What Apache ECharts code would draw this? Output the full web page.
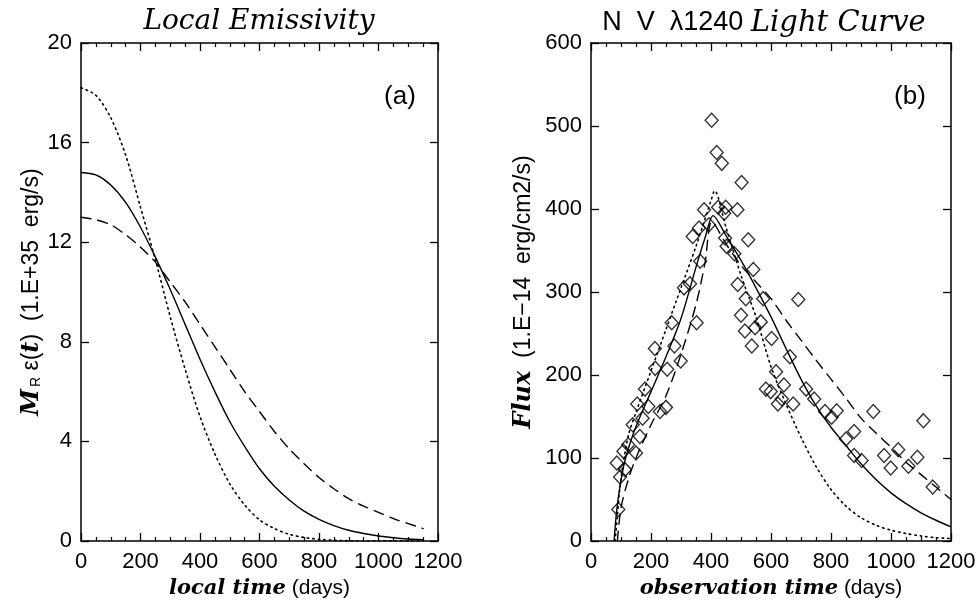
<!DOCTYPE html>
<html>
<head>
<meta charset="utf-8">
<script src="https://cdn.jsdelivr.net/npm/echarts@6/dist/echarts.min.js"></script>
<style>html,body{margin:0;padding:0;background:#fff;}#c{width:979px;height:600px;}</style>
</head>
<body>
<div id="c"></div>
<script>
// ---- Panel (a): local emissivity ----
const leftT = [0,50,100,150,200,250,300,350,400,450,500,550,600,650,700,750,800,850,900,950,1000,1050,1100,1150];
const leftSolid = [14.8,14.7,14.3,13.6,12.6,11.4,10.1,8.7,7.3,6.0,4.8,3.8,2.9,2.2,1.65,1.2,0.87,0.62,0.43,0.3,0.2,0.13,0.08,0.05];
const leftDotted = [18.2,17.9,17.0,15.5,13.4,11.3,9.0,6.9,5.0,3.5,2.3,1.45,0.85,0.5,0.27,0.14,0.07,0.03,0.01,0,0,0,0,0];
const leftDashed = [13.0,12.9,12.7,12.3,11.8,11.2,10.4,9.6,8.7,7.8,6.9,6.0,5.2,4.4,3.7,3.1,2.55,2.1,1.7,1.4,1.15,0.9,0.7,0.5];

// ---- Panel (b): N V 1240 light curve ----
const rSolidT = [77,85,95,110,125,150,200,250,300,350,380,407,450,500,550,600,650,700,750,800,850,900,950,1000,1050,1100,1150,1200];
const rSolidF = [0,35,62,92,112,138,180,222,268,330,365,392,368,338,305,270,232,195,163,137,115,93,74,58,45,34,25,17];
const rDottedT = [80,88,95,105,125,150,200,250,300,350,400,412,450,500,550,600,650,700,750,800,850,900,950,1000,1050,1100,1150,1200];
const rDottedF = [0,30,60,88,128,155,205,255,305,355,410,422,378,320,270,210,165,125,90,62,42,28,19,13,9,6,4,3];
const rDashedT = [88,100,125,150,200,250,300,350,380,403,450,500,550,600,650,700,750,800,850,900,950,1000,1050,1100,1150,1200];
const rDashedF = [0,40,75,100,140,175,225,285,335,385,358,332,312,292,266,242,218,195,172,148,130,113,95,80,65,50];

const obsT = [91,86,97,113,108,124,150,139,163,154,172,191,180,230,250,214,213,254,299,278,269,310,330,352,364,339,360,377,393,402,419,436,424,449,444,488,447,452,478,502,524,541,489,516,574,500,566,547,513,602,536,617,583,599,623,691,663,643,636,674,717,744,780,819,802,941,850,877,877,902,977,999,1024,1058,1088,1108,1139];
const obsFlux = [38,94,77,86,108,116,106,140,126,165,148,162,183,156,161,208,232,207,217,235,263,305,310,263,337,367,377,399,381,507,468,455,402,402,395,399,365,355,346,432,363,327,309,292,292,272,264,257,253,244,235,204,183,180,165,291,222,188,171,165,183,171,156,157,149,156,123,132,103,97,103,88,110,90,101,145,65];

const xTicks = [0,200,400,600,800,1000,1200];
const leftYTicks = [0,4,8,12,16,20];
const rightYTicks = [0,100,200,300,400,500,600];

const zip = (a, b) => a.map((v, i) => [v, b[i]]);

const SANS = '"Liberation Sans", Arial, sans-serif';
const SERIF = '"DejaVu Serif", serif';
const BLACK = '#000';

function xAx(grid, pos, ticks, nameRich) {
  return {
    type: 'value', gridIndex: grid, position: pos,
    min: ticks[0], max: ticks[ticks.length - 1], interval: ticks[1] - ticks[0],
    axisLine: { show: true, onZero: false, lineStyle: { color: BLACK, width: 1.5 } },
    axisTick: { show: true, inside: true, length: 8, lineStyle: { color: BLACK, width: 1.3 } },
    minorTick: { show: true, splitNumber: 4, length: 4, lineStyle: { color: BLACK, width: 1.2 } },
    splitLine: { show: false },
    axisLabel: { show: pos === 'bottom', fontSize: 22, color: BLACK, fontFamily: SANS, margin: 10,
      showMinLabel: true, showMaxLabel: true, formatter: v => String(v) },
    name: pos === 'bottom' ? nameRich : '',
    nameLocation: 'middle', nameGap: 37,
    nameTextStyle: {
      color: BLACK, fontSize: 21, fontFamily: SANS,
      rich: {
        b: { fontFamily: SERIF, fontStyle: 'italic', fontWeight: 'bold', fontSize: 21, color: BLACK },
        n: { fontFamily: SANS, fontSize: 21, color: BLACK }
      }
    }
  };
}
function yAx(grid, pos, ticks, nameRich, gap) {
  return {
    type: 'value', gridIndex: grid, position: pos,
    min: ticks[0], max: ticks[ticks.length - 1], interval: ticks[1] - ticks[0],
    axisLine: { show: true, onZero: false, lineStyle: { color: BLACK, width: 1.5 } },
    axisTick: { show: true, inside: true, length: 8, lineStyle: { color: BLACK, width: 1.3 } },
    minorTick: { show: false },
    splitLine: { show: false },
    axisLabel: { show: pos === 'left', fontSize: 22, color: BLACK, fontFamily: SANS, margin: 9, formatter: v => String(v) },
    name: pos === 'left' ? nameRich : '',
    nameLocation: 'middle', nameGap: gap, nameRotate: 90,
    nameTextStyle: {
      color: BLACK, fontSize: 23, fontFamily: SANS,
      rich: {
        m: { fontFamily: SERIF, fontStyle: 'italic', fontWeight: 'bold', fontSize: 24, color: BLACK },
        sub: { fontFamily: SANS, fontSize: 14, color: BLACK, verticalAlign: 'bottom', padding: [10, 0, 0, 2] },
        t: { fontFamily: SERIF, fontStyle: 'italic', fontWeight: 'bold', fontSize: 24, color: BLACK },
        n: { fontFamily: SANS, fontSize: 23, color: BLACK }
      }
    }
  };
}

function line(xi, yi, data, type, width) {
  return {
    type: 'line', xAxisIndex: xi, yAxisIndex: yi, data: data,
    showSymbol: false, symbol: 'none', smooth: 0.3, clip: true,
    lineStyle: { color: BLACK, width: width, type: type, cap: type === 'solid' ? 'butt' : 'round' },
    z: 2
  };
}

const chart = echarts.init(document.getElementById('c'), null, { renderer: 'canvas' });
chart.setOption({
  animation: false,
  backgroundColor: '#fff',
  grid: [
    { left: 81, top: 43, width: 357, height: 498, containLabel: false, outerBoundsMode: 'none' },
    { left: 591, top: 43, width: 360, height: 498, containLabel: false, outerBoundsMode: 'none' }
  ],
  xAxis: [
    xAx(0, 'bottom', xTicks, '{b|local time}{n| (days)}'),
    xAx(0, 'top', xTicks, ''),
    xAx(1, 'bottom', xTicks, '{b|observation time}{n| (days)}'),
    xAx(1, 'top', xTicks, '')
  ],
  yAxis: [
    yAx(0, 'left', leftYTicks, '{m|M}{sub|R}{n| ε(}{t|t}{n|)  (1.E+35  erg/s)}', 35),
    yAx(0, 'right', leftYTicks, '', 0),
    yAx(1, 'left', rightYTicks, '{m|Flux}{n|  (1.E\u221214  erg/cm2/s)}', 55),
    yAx(1, 'right', rightYTicks, '', 0)
  ],
  graphic: [
    { type: 'text', x: 259, y: 22, style: { text: 'Local Emissivity', font: 'italic 28px "DejaVu Serif"', fill: BLACK, align: 'center', verticalAlign: 'middle' } },
    { type: 'text', x: 764, y: 23, style: {
        text: '{a|N  V  \u03bb1240 }{b|Light Curve}', align: 'center', verticalAlign: 'middle', fill: BLACK,
        rich: {
          a: { fontFamily: SANS, fontSize: 27, fill: BLACK },
          b: { fontFamily: SERIF, fontStyle: 'italic', fontSize: 29, fill: BLACK }
        } } },
    { type: 'text', x: 400, y: 97, style: { text: '(a)', font: '26px "Liberation Sans"', fill: BLACK, align: 'center', verticalAlign: 'middle' } },
    { type: 'text', x: 910, y: 97, style: { text: '(b)', font: '26px "Liberation Sans"', fill: BLACK, align: 'center', verticalAlign: 'middle' } }
  ],
  series: [
    line(0, 0, zip(leftT, leftSolid), 'solid', 1.4),
    line(0, 0, zip(leftT, leftDashed), [10, 7], 1.4),
    line(0, 0, zip(leftT, leftDotted), [1.5, 4], 1.6),
    line(2, 2, zip(rSolidT, rSolidF), 'solid', 1.4),
    line(2, 2, zip(rDashedT, rDashedF), [10, 7], 1.4),
    line(2, 2, zip(rDottedT, rDottedF), [1.5, 4], 1.6),
    {
      type: 'scatter', xAxisIndex: 2, yAxisIndex: 2, data: zip(obsT, obsFlux),
      symbol: 'diamond', symbolSize: [13, 14],
      itemStyle: { color: 'rgba(0,0,0,0)', borderColor: BLACK, borderWidth: 1.4 },
      z: 3
    }
  ]
});
</script>
</body>
</html>
